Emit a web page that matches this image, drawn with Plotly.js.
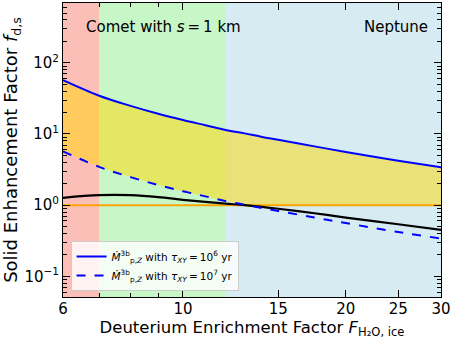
<!DOCTYPE html>
<html>
<head>
<meta charset="utf-8">
<script src="https://cdn.plot.ly/plotly-3.0.1.min.js"></script>
<style>
  html, body { margin: 0; padding: 0; background: #fff; }
  #plot { width: 452px; height: 339px; }
</style>
</head>
<body>
<div id="plot"></div>
<script>
// deuterium enrichment factor samples
var enrich = [6, 7, 8, 9, 10, 11, 12, 13, 14, 15, 17.5, 20, 25, 30];

// solid enhancement factor curves
var tau6 = [57, 34.5, 24.8, 19.2, 15.7, 13.3, 11.4, 10.2, 9.1, 8.3, 6.7, 5.6, 4.2, 3.4];
var tau7 = [5.7, 3.45, 2.48, 1.92, 1.57, 1.33, 1.14, 1.02, 0.91, 0.83, 0.67, 0.56, 0.42, 0.34];
var blackCurve = [1.27, 1.38, 1.38, 1.30, 1.19, 1.11, 1.05, 1.0, 0.945, 0.89, 0.77, 0.67, 0.54, 0.45];
var unity = 1;

// background bands: edges and colours
var bandEdges = [6, 7, 12, 30];
var bandColors = ['rgba(250,128,114,0.5)', 'rgba(144,238,144,0.5)', 'rgba(173,216,230,0.5)'];

var yTickVals = [0.1, 1, 10, 100];
var yTickText = ['10<sup>\u22121</sup>', '10<sup>0</sup>', '10<sup>1</sup>', '10<sup>2</sup>'];
var xTickVals = [6, 10, 15, 20, 25, 30];
var xMinorVals = [7, 8, 9];
var yMinorVals = [0.06, 0.07, 0.08, 0.09, 0.2, 0.3, 0.4, 0.5, 0.6, 0.7, 0.8, 0.9,
                  2, 3, 4, 5, 6, 7, 8, 9, 20, 30, 40, 50, 60, 70, 80, 90,
                  200, 300, 400, 500, 600];

// lower edge of the yellow band
var lowerEdge = tau7.map(function (v) { return Math.max(v, unity); });

var fillBase = {
    x: enrich, y: lowerEdge, mode: 'lines',
    line: {width: 0, color: 'rgba(0,0,0,0)'},
    showlegend: false, hoverinfo: 'skip'
};
var fillTop = {
    x: enrich, y: tau6, mode: 'lines', fill: 'tonexty',
    fillcolor: 'rgba(255,215,0,0.5)',
    line: {width: 0, color: 'rgba(0,0,0,0)'},
    showlegend: false, hoverinfo: 'skip'
};
var unityLine = {
    x: [enrich[0], enrich[enrich.length - 1]], y: [unity, unity],
    mode: 'lines', line: {color: 'orange', width: 2}, showlegend: false
};
var blackLine = {
    x: enrich, y: blackCurve, mode: 'lines', line: {color: 'black', width: 2.2, shape: 'spline'},
    showlegend: false
};
var solidLine = {
    x: enrich, y: tau6, mode: 'lines',
    name: '<i>\u1E40</i><sup>3b</sup><sub>p,<i>Z</i></sub> with <i>\u03C4</i><sub><i>XY</i></sub>\u2009=\u200910<sup>6</sup> yr',
    line: {color: 'blue', width: 2, shape: 'spline'}
};
var dashedLine = {
    x: enrich, y: tau7, mode: 'lines',
    name: '<i>\u1E40</i><sup>3b</sup><sub>p,<i>Z</i></sub> with <i>\u03C4</i><sub><i>XY</i></sub>\u2009=\u200910<sup>7</sup> yr',
    line: {color: 'blue', width: 2, dash: 'dash', shape: 'spline'}
};

var shapes = [];
for (var i = 0; i < bandColors.length; i++) {
    shapes.push({
        type: 'rect', xref: 'x', yref: 'paper',
        x0: bandEdges[i], x1: bandEdges[i + 1], y0: 0, y1: 1,
        fillcolor: bandColors[i], line: {width: 0}, layer: 'below'
    });
}

var layout = {
    width: 452, height: 339,
    margin: {l: 63, r: 11, t: 3, b: 42},
    paper_bgcolor: 'white', plot_bgcolor: 'white',
    font: {family: 'DejaVu Sans', size: 15, color: 'black'},
    showlegend: true,
    legend: {
        x: 0.02, y: 0.02, xanchor: 'left', yanchor: 'bottom', traceorder: 'normal',
        bgcolor: 'rgba(255,255,255,0.8)', bordercolor: '#cccccc', borderwidth: 1,
        font: {size: 10.5}, itemwidth: 30
    },
    xaxis: {
        type: 'log', range: [Math.log10(6), Math.log10(30)],
        tickvals: xTickVals, ticktext: xTickVals.map(String),
        ticks: 'inside', ticklen: 7, tickcolor: 'black', ticklabelstandoff: -2,
        minor: {tickvals: xMinorVals, ticks: 'inside', ticklen: 4, tickcolor: 'black'},
        showgrid: false, zeroline: false,
        showline: true, linecolor: 'black', linewidth: 1, mirror: 'ticks',
        title: {text: 'Deuterium Enrichment Factor <i>F</i><sub>H\u2082O, ice</sub>', font: {size: 16.5}, standoff: 7}
    },
    yaxis: {
        type: 'log', range: [-1.29, 2.84],
        tickvals: yTickVals, ticktext: yTickText,
        ticks: 'inside', ticklen: 7, tickcolor: 'black',
        minor: {tickvals: yMinorVals, ticks: 'inside', ticklen: 4, tickcolor: 'black'},
        showgrid: false, zeroline: false,
        showline: true, linecolor: 'black', linewidth: 1, mirror: 'ticks',
        title: {text: 'Solid Enhancement Factor <i>f</i><sub>d,s</sub>', font: {size: 18}, standoff: 4}
    },
    shapes: shapes,
    annotations: [
        {xref: 'paper', yref: 'paper', x: 0.265, y: 0.92, text: 'Comet with <i>s</i>\u2009=\u20091 km',
         showarrow: false, font: {size: 15}, xanchor: 'center', yanchor: 'middle'},
        {xref: 'paper', yref: 'paper', x: 0.971, y: 0.92, text: 'Neptune',
         showarrow: false, font: {size: 15}, xanchor: 'right', yanchor: 'middle'}
    ]
};

Plotly.newPlot('plot', [fillBase, fillTop, unityLine, blackLine, solidLine, dashedLine], layout,
    {displayModeBar: false, staticPlot: true});
</script>
</body>
</html>
